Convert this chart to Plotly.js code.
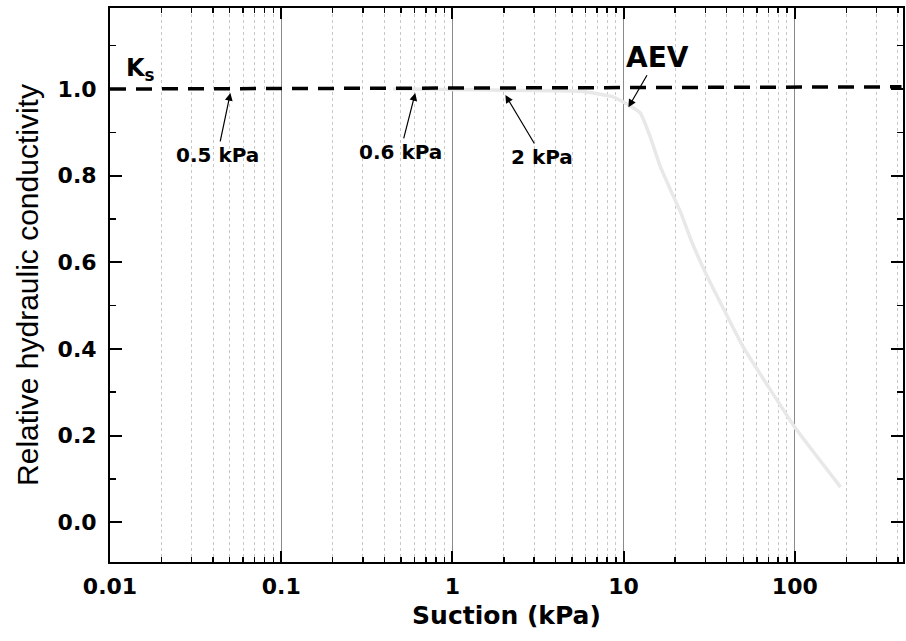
<!DOCTYPE html>
<html>
<head>
<meta charset="utf-8">
<script src="https://cdn.plot.ly/plotly-3.0.1.min.js"></script>
<style>html,body{margin:0;padding:0;background:#fff;}#chart{width:906px;height:641px;}</style>
</head>
<body>
<div id="chart"></div>
<script>
// Measured curve (relative hydraulic conductivity vs suction)
const suction = [0.45, 1, 2, 4, 5.6, 7.3, 8.7, 10.7, 12.5, 14.3, 16.4, 18.8, 21.6, 25.2, 30.9, 50, 100, 185];
const relK    = [1.0, 0.999, 0.997, 0.996, 0.995, 0.988, 0.982, 0.963, 0.945, 0.89, 0.82, 0.767, 0.714, 0.644, 0.566, 0.404, 0.219, 0.081];

// Saturated conductivity reference line (Ks)
const ksX = [0.01, 420];
const ksY = [1.0, 1.005];

// Tick labels
const xTickVals = [0.01, 0.1, 1, 10, 100];
const xTickText = ["0.01", "0.1", "1", "10", "100"];
const yTickVals = [0.0, 0.2, 0.4, 0.6, 0.8, 1.0];
const yTickText = ["0.0", "0.2", "0.4", "0.6", "0.8", "1.0"];

// Arrow annotations
const noteText = ["0.5 kPa", "0.6 kPa", "2 kPa", "AEV"];
const noteX    = [0.0505, 0.607, 2.04, 10.67];
const noteY    = [0.991, 0.991, 0.986, 0.958];
const noteAX   = [-13, -15, 37, 29];
const noteAY   = [62, 59, 62, -50];
const noteSize = [20, 20, 20, 28];

const ksLabel = "K<sub>s</sub>";
const ksLabelX = 0.0151;
const ksLabelY = 1.044;

const traces = [
  {
    x: suction, y: relK, type: 'scatter', mode: 'lines',
    line: {color: '#e8e8e8', width: 3.5, shape: 'spline', smoothing: 0.3},
    hoverinfo: 'skip', showlegend: false
  },
  {
    x: ksX, y: ksY, type: 'scatter', mode: 'lines',
    line: {color: '#000', width: 3.5, dash: '16px,10px'},
    hoverinfo: 'skip', showlegend: false
  }
];

const annotations = noteText.map((t, i) => ({
  x: Math.log10(noteX[i]), y: noteY[i], xref: 'x', yref: 'y',
  text: t, showarrow: true, ax: noteAX[i], ay: noteAY[i],
  arrowhead: 2, arrowsize: 1.3, arrowwidth: 1.2, arrowcolor: '#000',
  font: {family: 'DejaVu Sans', size: noteSize[i], color: '#000', weight: 'bold'}
}));
annotations.push({
  x: Math.log10(ksLabelX), y: ksLabelY, xref: 'x', yref: 'y',
  text: ksLabel, showarrow: false, xanchor: 'center', yanchor: 'middle',
  font: {family: 'DejaVu Sans', size: 24, color: '#000', weight: 'bold'}
});

const layout = {
  width: 906, height: 641,
  margin: {l: 110, r: 3, t: 8, b: 79},
  paper_bgcolor: '#fff', plot_bgcolor: '#fff',
  showlegend: false,
  xaxis: {
    type: 'log', range: [-2, 2.632],
    tickmode: 'array', tickvals: xTickVals, ticktext: xTickText,
    ticks: 'inside', ticklen: 11, tickwidth: 2, tickcolor: '#000',
    showline: true, linecolor: '#000', linewidth: 2, mirror: 'ticks',
    showgrid: true, gridcolor: '#8a8a8a', gridwidth: 1,
    zeroline: false,
    tickfont: {family: 'DejaVu Sans', size: 22, color: '#000', weight: 'bold'},
    ticklabelstandoff: 4,
    minor: {dtick: 'D1', ticks: 'inside', ticklen: 5, tickwidth: 1.5, tickcolor: '#000',
            showgrid: true, gridcolor: '#c8c8c8', gridwidth: 1, griddash: 'dot'},
    title: {text: 'Suction (kPa)', standoff: 8,
            font: {family: 'DejaVu Sans', size: 25, color: '#000', weight: 'bold'}}
  },
  yaxis: {
    range: [-0.092, 1.187],
    tickmode: 'array', tickvals: yTickVals, ticktext: yTickText,
    ticks: 'inside', ticklen: 12, tickwidth: 2, tickcolor: '#000',
    showline: true, linecolor: '#000', linewidth: 2, mirror: 'ticks',
    showgrid: false, zeroline: false,
    tickfont: {family: 'DejaVu Sans', size: 22, color: '#000', weight: 'bold'},
    ticklabelstandoff: 7,
    minor: {dtick: 0.1, tick0: 0, ticks: 'inside', ticklen: 6, tickwidth: 1.5, tickcolor: '#000', showgrid: false},
    title: {text: 'Relative hydraulic conductivity', standoff: 10,
            font: {family: 'Liberation Sans, Arial, sans-serif', size: 30, color: '#000'}}
  },
  annotations: annotations
};

Plotly.newPlot('chart', traces, layout, {staticPlot: true, displayModeBar: false});
</script>
</body>
</html>
